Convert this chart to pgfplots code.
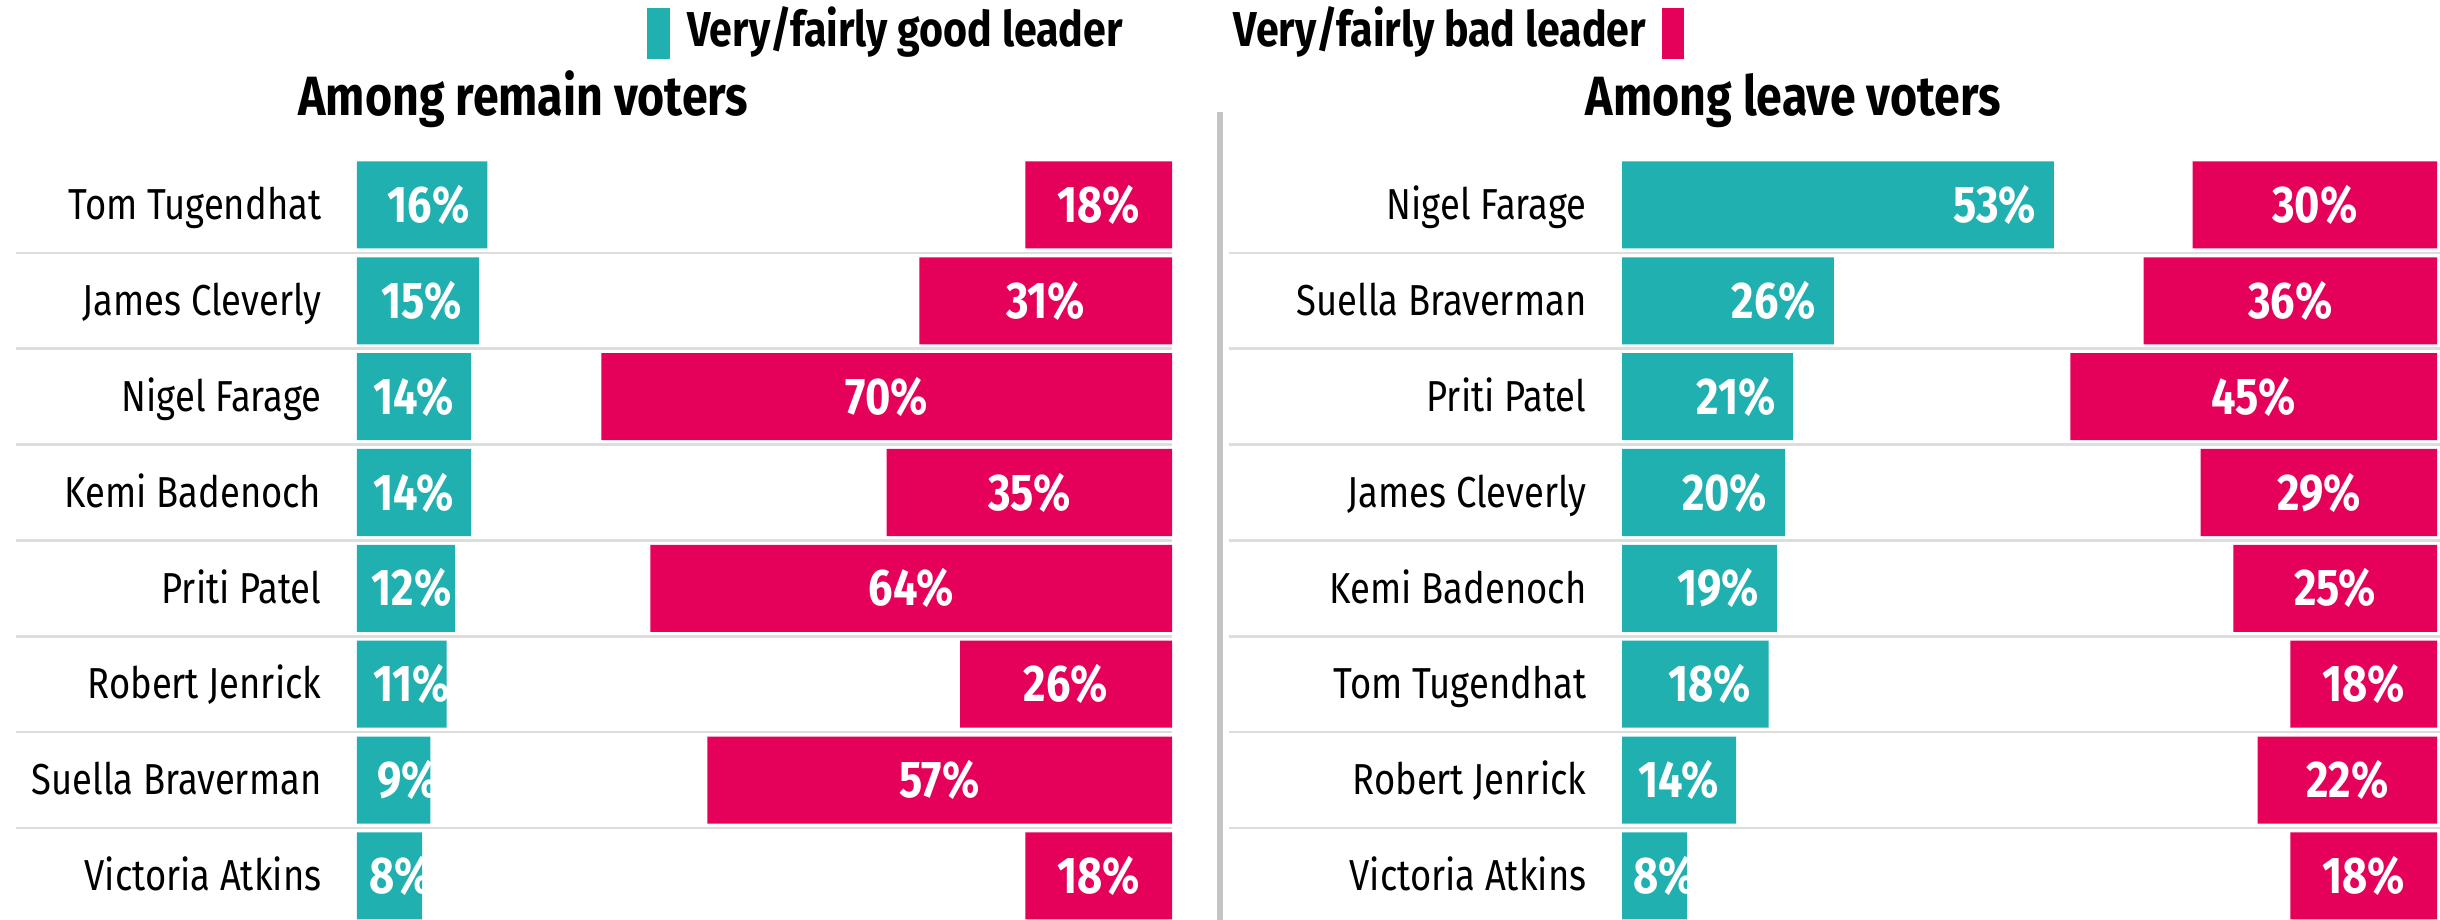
\documentclass[border=0pt]{standalone}
\usepackage{pgfplots}
\usepackage{pgfplotstable}
\pgfplotsset{compat=1.18}
\usepackage{fontspec}
\setmainfont{Fira Sans}[FakeStretch=0.84]
\definecolor{tealc}{HTML}{1FB0AF}
\definecolor{redc}{HTML}{E50059}
\definecolor{sepc}{HTML}{DDDDDD}
\definecolor{divc}{HTML}{C4C4C4}

\pgfplotstableread{
row name good bad lx
0 {Tom Tugendhat} 16 18 13.9
1 {James Cleverly} 15 31 12.9
2 {Nigel Farage} 14 70 11.9
3 {Kemi Badenoch} 14 35 11.9
4 {Priti Patel} 12 64 11.7
5 {Robert Jenrick} 11 26 11.5
6 {Suella Braverman} 9 57 10.1
7 {Victoria Atkins} 8 18 9.3
}\Ltab

\pgfplotstableread{
row name good bad lx
0 {Nigel Farage} 53 30 50.9
1 {Suella Braverman} 26 36 23.9
2 {Priti Patel} 21 45 18.9
3 {James Cleverly} 20 29 17.9
4 {Kemi Badenoch} 19 25 16.9
5 {Tom Tugendhat} 18 18 15.9
6 {Robert Jenrick} 14 22 11.9
7 {Victoria Atkins} 8 18 9.1
}\Rtab

\pgfplotsset{
  panel/.style={scale only axis, width=244.5pt, height=228.9pt,
    xmin=0, xmax=100, ymin=-0.5, ymax=7.46, y dir=reverse,
    anchor=south west, clip=false},
  bars/.style={panel, xbar stacked, bar width=0.908,
    axis line style={draw=none}, major tick length=0pt, xtick=\empty,
    ytick={0,...,7},
    yticklabel style={anchor=base east, inner sep=0pt, xshift=-10.5pt, yshift=-4.4pt,
      font=\fontsize{13}{13}\selectfont}},
  labs/.style={panel, hide axis},
  pct/.style={only marks, mark=*, mark size=0pt, point meta=explicit,
    nodes near coords={\pgfmathprintnumber[fixed,precision=0,assume math mode=true]{\pgfplotspointmeta}\%},
    every node near coord/.style={inner sep=0pt, text=white,
      font=\bfseries\fontsize{15.5}{15.5}\selectfont}}
}

\begin{document}
\begin{tikzpicture}
\useasboundingbox (0pt,0pt) rectangle (732pt,-276pt);

% legend
\fill[tealc] (194pt,-2.4pt) rectangle (201pt,-17.7pt);
\node[anchor=base west, inner sep=0pt, font=\bfseries\fontsize{14.7}{14.7}\selectfont] at (206pt,-14pt) {Very/fairly good leader};
\node[anchor=base east, inner sep=0pt, font=\bfseries\fontsize{14.7}{14.7}\selectfont] at (494pt,-14pt) {Very/fairly bad leader};
\fill[redc] (498.6pt,-2.4pt) rectangle (505.2pt,-17.7pt);

% titles
\node[anchor=base, inner sep=0pt, font=\bfseries\fontsize{16.6}{16.6}\selectfont] at (157pt,-34.6pt) {Among remain voters};
\node[anchor=base, inner sep=0pt, font=\bfseries\fontsize{16.6}{16.6}\selectfont] at (538pt,-34.6pt) {Among leave voters};

% divider
\draw[divc, line width=1.8pt] (366pt,-33.6pt) -- (366pt,-280pt);

% left panel bars
\begin{axis}[bars, at={(107.1pt,-276pt)}, yticklabels from table={\Ltab}{name}]
\pgfplotsinvokeforeach{0.5,1.5,2.5,3.5,4.5,5.5,6.5}{
  \draw[sepc, line width=0.8pt] (axis cs:-41.8,#1) -- (axis cs:100,#1);
}
\addplot[fill=tealc, draw=none] table[x=good, y=row] {\Ltab};
\addplot[fill=none, draw=none] table[x expr=100-\thisrow{good}-\thisrow{bad}, y=row] {\Ltab};
\addplot[fill=redc, draw=none] table[x=bad, y=row] {\Ltab};
\end{axis}
\begin{axis}[labs, at={(107.1pt,-276pt)}]
\addplot[pct, every node near coord/.append style={anchor=east}] table[x=lx, y=row, meta=good] {\Ltab};
\addplot[pct, every node near coord/.append style={anchor=center}] table[x expr=100-\thisrow{bad}/2, y=row, meta=bad] {\Ltab};
\end{axis}

% right panel bars
\begin{axis}[bars, at={(486.6pt,-276pt)}, yticklabels from table={\Rtab}{name}]
\pgfplotsinvokeforeach{0.5,1.5,2.5,3.5,4.5,5.5,6.5}{
  \draw[sepc, line width=0.8pt] (axis cs:-48.2,#1) -- (axis cs:101,#1);
}
\addplot[fill=tealc, draw=none] table[x=good, y=row] {\Rtab};
\addplot[fill=none, draw=none] table[x expr=100-\thisrow{good}-\thisrow{bad}, y=row] {\Rtab};
\addplot[fill=redc, draw=none] table[x=bad, y=row] {\Rtab};
\end{axis}
\begin{axis}[labs, at={(486.6pt,-276pt)}]
\addplot[pct, every node near coord/.append style={anchor=east}] table[x=lx, y=row, meta=good] {\Rtab};
\addplot[pct, every node near coord/.append style={anchor=center}] table[x expr=100-\thisrow{bad}/2, y=row, meta=bad] {\Rtab};
\end{axis}
\end{tikzpicture}
\end{document}
